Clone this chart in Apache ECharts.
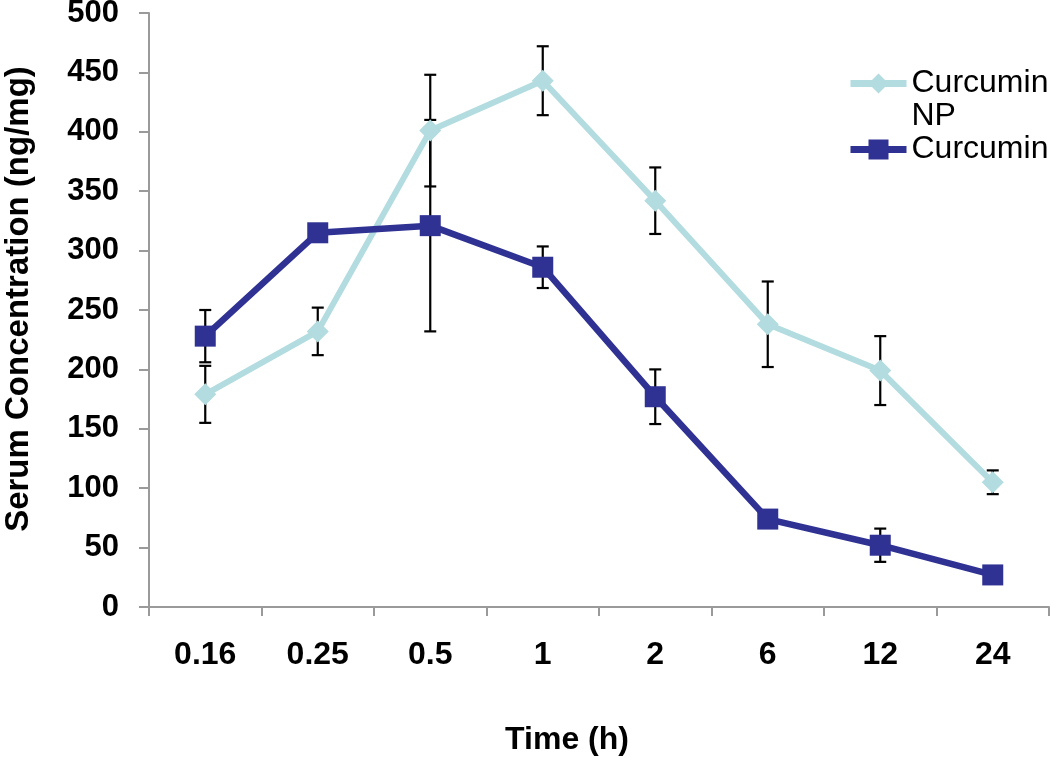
<!DOCTYPE html>
<html><head><meta charset="utf-8">
<script src="https://cdn.jsdelivr.net/npm/echarts@6/dist/echarts.min.js"></script>
<style>html,body{margin:0;padding:0;background:#fff}#c{width:1050px;height:758px}</style>
</head><body><div id="c"></div>
<script>
const categories = ['0.16', '0.25', '0.5', '1', '2', '6', '12', '24'];
const npMean = [179, 232, 401, 443, 342, 238, 199, 105];
const npErr = [24, 20, 47, 29, 28, 36, 29, 10];
const curMean = [228, 315, 321, 286, 177, 74, 52, 27];
const curErr = [22, null, 89, 17.5, 23, null, 14, null];
const yTicks = {min: 0, max: 500, interval: 50};

const FONT = "'Liberation Sans', Arial, sans-serif";
const NP_COLOR = '#B2DCDF';
const CUR_COLOR = '#2F3193';
const AXIS_COLOR = '#9a9a9a';

function errData(mean, err) {
  const out = [];
  mean.forEach((m, i) => { if (err[i] != null) out.push([i, m - err[i], m + err[i]]); });
  return out;
}
function renderErr(params, api) {
  const x = api.value(0);
  const lo = api.coord([x, api.value(1)]);
  const hi = api.coord([x, api.value(2)]);
  const w = 6;
  const st = {stroke: '#000', lineWidth: 2.2};
  return {type: 'group', children: [
    {type: 'line', shape: {x1: lo[0], y1: lo[1], x2: hi[0], y2: hi[1]}, style: st},
    {type: 'line', shape: {x1: lo[0] - w, y1: lo[1], x2: lo[0] + w, y2: lo[1]}, style: st},
    {type: 'line', shape: {x1: hi[0] - w, y1: hi[1], x2: hi[0] + w, y2: hi[1]}, style: st}
  ]};
}

const chart = echarts.init(document.getElementById('c'), null, {renderer: 'canvas'});
chart.setOption({
  animation: false,
  backgroundColor: '#fff',
  grid: {left: 149, right: 1, top: 13, bottom: 151, containLabel: false, outerBoundsMode: 'none'},
  legend: {
    orient: 'vertical', left: 847, top: 34, padding: 0, itemGap: 0,
    itemWidth: 56, itemHeight: 25,
    data: ['Curcumin NP', 'Curcumin'],
    formatter: n => n === 'Curcumin NP' ? '\nCurcumin\nNP' : n,
    lineStyle: {width: 7},
    textStyle: {fontFamily: FONT, fontSize: 32, lineHeight: 33, color: '#000'}
  },
  xAxis: {
    type: 'category', data: categories, boundaryGap: true,
    name: 'Time (h)', nameLocation: 'middle', nameGap: 117,
    nameTextStyle: {fontFamily: FONT, fontSize: 32, fontWeight: 'bold', color: '#000', padding: [0, 64, 0, 0]},
    axisLine: {lineStyle: {color: AXIS_COLOR, width: 2}},
    axisTick: {show: true, length: 9, lineStyle: {color: AXIS_COLOR, width: 2}},
    axisLabel: {fontFamily: FONT, fontSize: 32, fontWeight: 'bold', color: '#000', margin: 32},
    splitLine: {show: false}
  },
  yAxis: {
    type: 'value', min: yTicks.min, max: yTicks.max, interval: yTicks.interval,
    name: 'Serum Concentration (ng/mg)', nameLocation: 'middle', nameGap: 114,
    nameTextStyle: {fontFamily: FONT, fontSize: 33, fontWeight: 'bold', color: '#000', padding: [0, 0, 0, 22]},
    axisLine: {show: true, lineStyle: {color: AXIS_COLOR, width: 2}},
    axisTick: {show: true, length: 10, lineStyle: {color: AXIS_COLOR, width: 2}},
    axisLabel: {fontFamily: FONT, fontSize: 31, fontWeight: 'bold', color: '#000', margin: 30},
    splitLine: {show: false}
  },
  series: [
    {type: 'custom', name: 'npErr', renderItem: renderErr, data: errData(npMean, npErr), z: 1, silent: true},
    {type: 'custom', name: 'curErr', renderItem: renderErr, data: errData(curMean, curErr), z: 1, silent: true},
    {type: 'line', name: 'Curcumin NP', data: npMean, symbol: 'diamond', symbolSize: 22,
     lineStyle: {color: NP_COLOR, width: 6}, itemStyle: {color: NP_COLOR}, z: 3},
    {type: 'line', name: 'Curcumin', data: curMean, symbol: 'rect', symbolSize: 21,
     lineStyle: {color: CUR_COLOR, width: 6.5}, itemStyle: {color: CUR_COLOR}, z: 4}
  ]
});
</script></body></html>
